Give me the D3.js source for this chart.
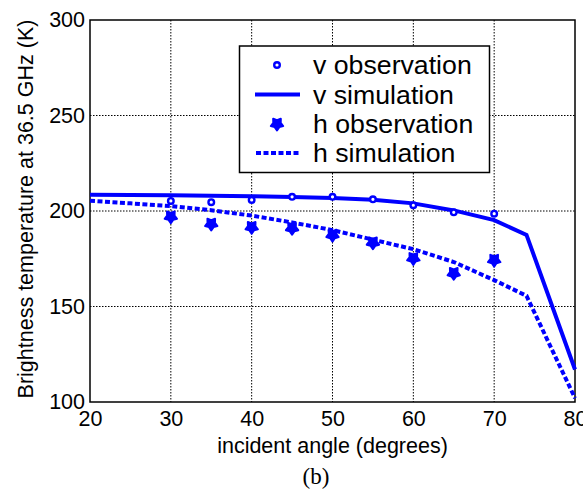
<!DOCTYPE html>
<html><head><meta charset="utf-8">
<script src="https://cdn.jsdelivr.net/npm/d3@7"></script>
<style>body{margin:0;background:#fff}svg{display:block}</style>
</head><body>
<script>
const obsAngles = [30,35,40,45,50,55,60,65,70];
const vObs = [205.3,204.6,205.8,207.4,207.4,206.1,203.0,199.3,198.6];
const hObs = [197.0,193.2,191.5,191.0,187.4,183.4,175.2,167.4,174.3];
const simAngles = [20,25,30,35,40,45,50,55,60,65,70,74,80];
const vSim = [208.5,208.4,208.2,208.0,207.7,207.3,206.8,205.9,204.0,200.3,195.2,187.5,117];
const hSim = [205.4,204.0,202.6,200.4,197.6,194.0,190.0,185.0,180.0,173.3,163.8,155.6,102];
const xTicks = [20,30,40,50,60,70,80];
const yTicks = [100,150,200,250,300];
const legendLabels = ["v observation","v simulation","h observation","h simulation"];

const W=583,H=489, L=90,R=575,T=20,B=402;
const blue="#0000ff";
const svg=d3.select("body").append("svg").attr("width",W).attr("height",H);
const x=d3.scaleLinear().domain([20,80]).range([L,R]);
const y=d3.scaleLinear().domain([100,300]).range([B,T]);
const font="Liberation Sans, Arial, sans-serif";

// grid
const g=svg.append("g");
g.selectAll(".gx").data(xTicks.slice(1,-1)).join("line")
 .attr("x1",d=>x(d)).attr("x2",d=>x(d)).attr("y1",T).attr("y2",B)
 .attr("stroke","#000").attr("stroke-width",1).attr("stroke-dasharray","1.5,1.5");
g.selectAll(".gy").data(yTicks.slice(1,-1)).join("line")
 .attr("y1",d=>y(d)).attr("y2",d=>y(d)).attr("x1",L).attr("x2",R)
 .attr("stroke","#000").attr("stroke-width",1).attr("stroke-dasharray","1.5,1.5");

// axes
const xa=svg.append("g").attr("transform",`translate(0,${B})`)
 .call(d3.axisBottom(x).tickValues(xTicks).tickSize(0).tickPadding(9));
const ya=svg.append("g").attr("transform",`translate(${L},0)`)
 .call(d3.axisLeft(y).tickValues(yTicks).tickSize(0).tickPadding(5));
[xa,ya].forEach(a=>{a.select(".domain").remove();
 a.selectAll("text").attr("font-family",font).attr("font-size",21.5).attr("fill","#000");});
xa.selectAll("text").attr("dy","0.71em");

// box
svg.append("rect").attr("x",L).attr("y",T).attr("width",R-L).attr("height",B-T)
 .attr("fill","none").attr("stroke","#000").attr("stroke-width",1.5);

// lines
const line=d3.line().x(d=>x(d[0])).y(d=>y(d[1]));
svg.append("path").datum(simAngles.map((a,i)=>[a,vSim[i]])).attr("d",line)
 .attr("fill","none").attr("stroke",blue).attr("stroke-width",4);
svg.append("path").datum(simAngles.map((a,i)=>[a,hSim[i]])).attr("d",line)
 .attr("fill","none").attr("stroke",blue).attr("stroke-width",4).attr("stroke-dasharray","5,2.5");

// markers
function starPath(Ro,Ri){const pts=[];for(let k=0;k<10;k++){const r=k%2?Ri:Ro;const a=Math.PI+k*Math.PI/5;pts.push([r*Math.sin(a),-r*Math.cos(a)]);}
 return d3.line().curve(d3.curveLinearClosed)(pts);}
const starD=starPath(6.5,3.9);
function drawStar(sel,cx,cy){sel.append("path").attr("d",starD)
 .attr("transform",`translate(${cx},${cy})`)
 .attr("fill",blue).attr("stroke",blue).attr("stroke-width",2).attr("stroke-linejoin","round");}
function drawCirc(sel,cx,cy){sel.append("circle").attr("cx",cx).attr("cy",cy).attr("r",2.8)
 .attr("fill","#fff").attr("stroke",blue).attr("stroke-width",2.4);}
obsAngles.forEach((a,i)=>{drawCirc(svg,x(a),y(vObs[i]));});
obsAngles.forEach((a,i)=>{drawStar(svg,x(a),y(hObs[i]));});

// legend
const lg=svg.append("g");
lg.append("rect").attr("x",239.5).attr("y",46).attr("width",250).attr("height",126.5)
 .attr("fill","#fff").attr("stroke","#000").attr("stroke-width",1.5);
const rowY=[65,94.5,124,153];
legendLabels.forEach((t,i)=>{
 lg.append("text").attr("x",313).attr("y",rowY[i]).attr("dy","0.35em")
  .attr("font-family",font).attr("font-size",26.7).attr("fill","#000").text(t);
});
drawCirc(lg,277,rowY[0]);
lg.append("line").attr("x1",255).attr("x2",300).attr("y1",rowY[1]).attr("y2",rowY[1]).attr("stroke",blue).attr("stroke-width",4);
drawStar(lg,277,rowY[2]);
lg.append("line").attr("x1",256).attr("x2",299).attr("y1",rowY[3]).attr("y2",rowY[3]).attr("stroke",blue).attr("stroke-width",4).attr("stroke-dasharray","5,2.5");

// labels
svg.append("text").attr("x",(L+R)/2).attr("y",453).attr("text-anchor","middle")
 .attr("font-family",font).attr("font-size",21.5).text("incident angle (degrees)");
svg.append("text").attr("transform",`translate(33,209) rotate(-90)`).attr("text-anchor","middle")
 .attr("font-family",font).attr("font-size",21.5).text("Brightness temperature at 36.5 GHz (K)");
svg.append("text").attr("x",316).attr("y",484).attr("text-anchor","middle")
 .attr("font-family","Liberation Serif, Times New Roman, serif").attr("font-size",23).text("(b)");
</script>
</body></html>
